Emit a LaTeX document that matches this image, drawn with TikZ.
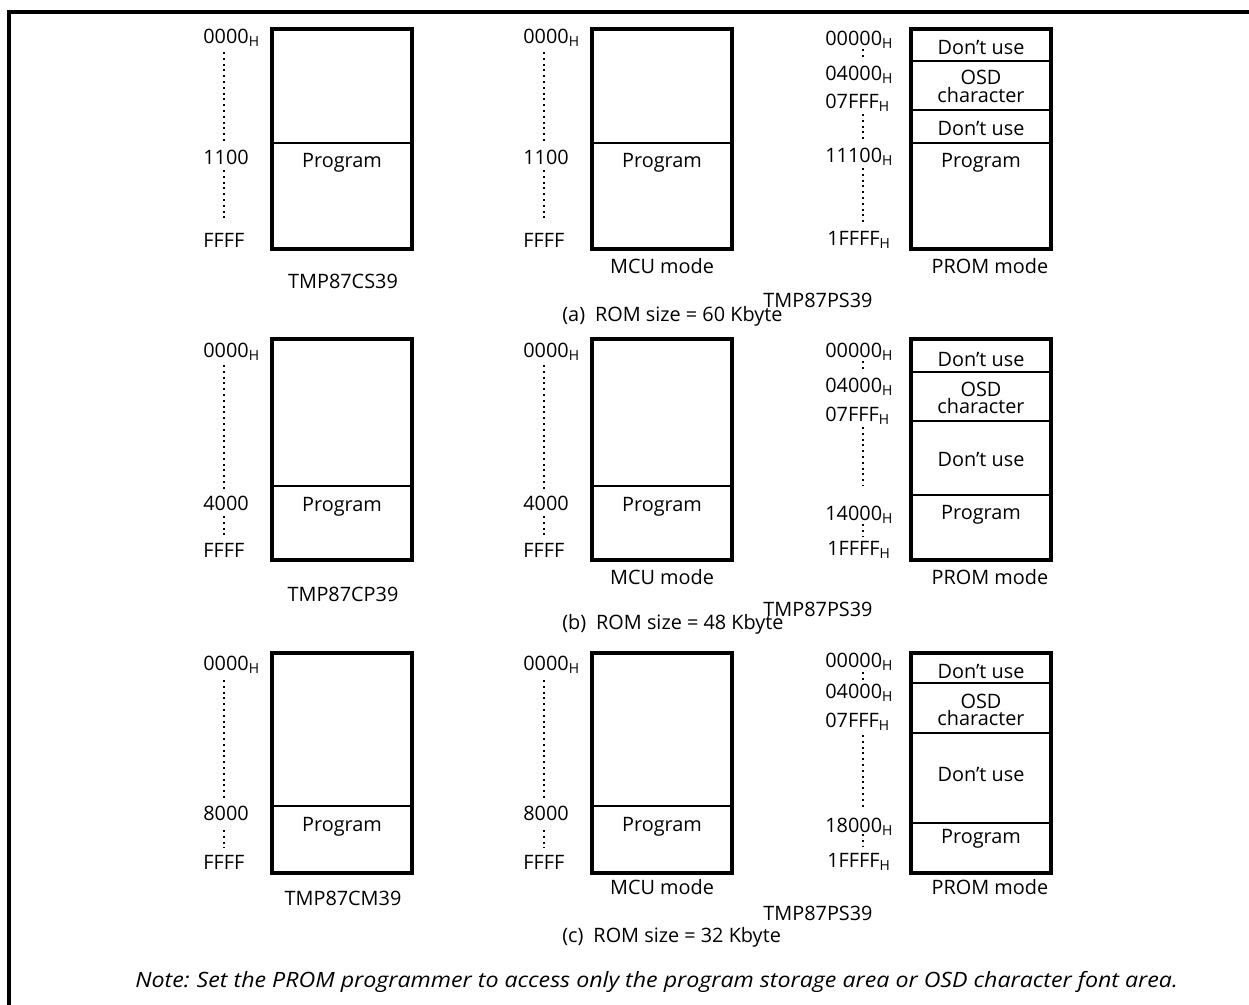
\documentclass[tikz,border=0pt]{standalone}
\usepackage{fontspec}
\setmainfont{Open Sans}
\begin{document}
\begin{tikzpicture}[x=0.02cm,y=-0.02cm,
  every node/.style={inner sep=0pt,font=\fontsize{11.3}{12.5}\selectfont},
  membox/.style={line width=2.2pt},
  divline/.style={line width=0.8pt},
  dotline/.style={line width=1.1pt,dash pattern=on 1.1pt off 2.2pt},
  frameline/.style={line width=2pt},
  lab/.style={anchor=west},
  captext/.style={anchor=west}]
\useasboundingbox (0,0) rectangle (1249,1005);
\draw[frameline] (9,1010) -- (9,12) -- (1260,12);

% ---------------- Row (a) ----------------
\draw[membox] (272,29) rectangle (412,249);
\draw[divline] (272,143) -- (412,143);
\node (a1prog) at (342,163) {Program};
\node[lab] (a1l0) at (203,38) {0000\textsubscript{H}};
\node[lab] (a1l1) at (203,157) {1100};
\node[lab] (a1l2) at (203,240) {FFFF};
\draw[dotline] (224,52) -- (224,142);
\draw[dotline] (224,170) -- (224,222);
\node (a1name) at (343,281) {TMP87CS39};
\draw[membox] (592,29) rectangle (732,249);
\draw[divline] (592,143) -- (732,143);
\node (a2prog) at (662,163) {Program};
\node[lab] (a2l0) at (523,38) {0000\textsubscript{H}};
\node[lab] (a2l1) at (523,157) {1100};
\node[lab] (a2l2) at (523,240) {FFFF};
\draw[dotline] (544,52) -- (544,142);
\draw[dotline] (544,170) -- (544,222);
\node (a2name) at (662,266) {MCU mode};
\draw[membox] (911,29) rectangle (1051,249);
\draw[divline] (911,61) -- (1051,61);
\draw[divline] (911,110) -- (1051,110);
\draw[divline] (911,143) -- (1051,143);
\node (a3t1) at (981,48) {Don’t use};
\node (a3t2) at (981,77) {OSD};
\node (a3t3) at (981,95) {character};
\node (a3t4) at (981,129) {Don’t use};
\node (a3t5) at (981,163) {Program};
\node[lab] (a3l0) at (825,40) {00000\textsubscript{H}};
\node[lab] (a3l1) at (825,75) {04000\textsubscript{H}};
\node[lab] (a3l2) at (825,103) {07FFF\textsubscript{H}};
\node[lab] (a3l3) at (825,157) {11100\textsubscript{H}};
\node[lab] (a3l4) at (827,240) {1FFFF\textsubscript{H}};
\draw[dotline] (863,49) -- (863,58);
\draw[dotline] (863,114) -- (863,140);
\draw[dotline] (863,168) -- (863,224);
\node (a3name) at (990,266) {PROM mode};
\node (a4name) at (818,300) {TMP87PS39};
\node[captext] (acap) at (562,316) {(a)\hspace{0.5em}ROM size = 60 Kbyte};

% ---------------- Row (b) ----------------
\draw[membox] (272,339) rectangle (412,560);
\draw[divline] (272,486) -- (412,486);
\node (b1prog) at (342,507) {Program};
\node[lab] (b1l0) at (203,352) {0000\textsubscript{H}};
\node[lab] (b1l1) at (203,503) {4000};
\node[lab] (b1l2) at (203,550) {FFFF};
\draw[dotline] (224,365) -- (224,490);
\draw[dotline] (224,516) -- (224,537);
\node (b1name) at (343,594) {TMP87CP39};
\draw[membox] (592,339) rectangle (732,560);
\draw[divline] (592,486) -- (732,486);
\node (b2prog) at (662,507) {Program};
\node[lab] (b2l0) at (523,352) {0000\textsubscript{H}};
\node[lab] (b2l1) at (523,503) {4000};
\node[lab] (b2l2) at (523,550) {FFFF};
\draw[dotline] (544,365) -- (544,490);
\draw[dotline] (544,516) -- (544,537);
\node (b2name) at (662,577) {MCU mode};
\draw[membox] (911,339) rectangle (1051,560);
\draw[divline] (911,372) -- (1051,372);
\draw[divline] (911,421) -- (1051,421);
\draw[divline] (911,495) -- (1051,495);
\node (b3t1) at (981,360) {Don’t use};
\node (b3t2) at (981,389) {OSD};
\node (b3t3) at (981,406) {character};
\node (b3t4) at (981,460) {Don’t use};
\node (b3t5) at (981,515) {Program};
\node[lab] (b3l0) at (825,352) {00000\textsubscript{H}};
\node[lab] (b3l1) at (825,387) {04000\textsubscript{H}};
\node[lab] (b3l2) at (825,416) {07FFF\textsubscript{H}};
\node[lab] (b3l3) at (825,515) {14000\textsubscript{H}};
\node[lab] (b3l4) at (827,550) {1FFFF\textsubscript{H}};
\draw[dotline] (863,361) -- (863,370);
\draw[dotline] (863,427) -- (863,486);
\draw[dotline] (863,524) -- (863,537);
\node (b3name) at (990,577) {PROM mode};
\node (b4name) at (818,609) {TMP87PS39};
\node[captext] (bcap) at (562,624) {(b)\hspace{0.5em}ROM size = 48 Kbyte};

% ---------------- Row (c) ----------------
\draw[membox] (272,653) rectangle (412,873);
\draw[divline] (272,806) -- (412,806);
\node (c1prog) at (342,827) {Program};
\node[lab] (c1l0) at (203,665) {0000\textsubscript{H}};
\node[lab] (c1l1) at (203,813) {8000};
\node[lab] (c1l2) at (203,862) {FFFF};
\draw[dotline] (224,680) -- (224,800);
\draw[dotline] (224,830) -- (224,848);
\node (c1name) at (343,898) {TMP87CM39};
\draw[membox] (592,653) rectangle (732,873);
\draw[divline] (592,806) -- (732,806);
\node (c2prog) at (662,827) {Program};
\node[lab] (c2l0) at (523,665) {0000\textsubscript{H}};
\node[lab] (c2l1) at (523,813) {8000};
\node[lab] (c2l2) at (523,862) {FFFF};
\draw[dotline] (544,680) -- (544,800);
\draw[dotline] (544,830) -- (544,848);
\node (c2name) at (662,887) {MCU mode};
\draw[membox] (911,653) rectangle (1051,873);
\draw[divline] (911,683) -- (1051,683);
\draw[divline] (911,733) -- (1051,733);
\draw[divline] (911,823) -- (1051,823);
\node (c3t1) at (981,672) {Don’t use};
\node (c3t2) at (981,701) {OSD};
\node (c3t3) at (981,718) {character};
\node (c3t4) at (981,775) {Don’t use};
\node (c3t5) at (981,839) {Program};
\node[lab] (c3l0) at (825,662) {00000\textsubscript{H}};
\node[lab] (c3l1) at (825,693) {04000\textsubscript{H}};
\node[lab] (c3l2) at (825,722) {07FFF\textsubscript{H}};
\node[lab] (c3l3) at (825,827) {18000\textsubscript{H}};
\node[lab] (c3l4) at (827,862) {1FFFF\textsubscript{H}};
\draw[dotline] (863,672) -- (863,680);
\draw[dotline] (863,735) -- (863,810);
\draw[dotline] (863,834) -- (863,846);
\node (c3name) at (990,887) {PROM mode};
\node (c4name) at (818,913) {TMP87PS39};
\node[captext] (ccap) at (562,937) {(c)\hspace{0.5em}ROM size = 32 Kbyte};

% ---------------- Note ----------------
\node[anchor=west] (note) at (135,982) {\scalebox{1.1}[1]{\fontsize{12}{13}\selectfont\itshape Note:\hspace{0.3em}Set the PROM programmer to access only the program storage area or OSD character font area.}};
\end{tikzpicture}
\end{document}
